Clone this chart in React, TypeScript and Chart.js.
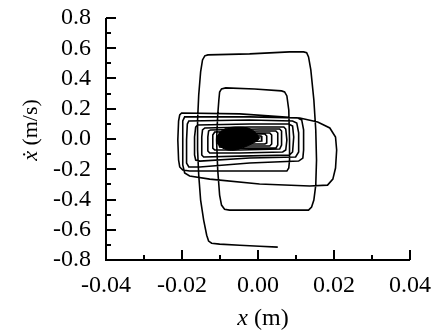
import React, { useEffect, useRef } from 'react';
import { Chart, registerables } from 'chart.js';

Chart.register(...registerables);

// Axis ticks
const xTickValues = [-0.04, -0.02, 0, 0.02, 0.04];
const xTickLabels = ['-0.04', '-0.02', '0.00', '0.02', '0.04'];
const xMinorTicks = [-0.03, -0.01, 0.01, 0.03];
const yTickValues = [-0.8, -0.6, -0.4, -0.2, 0, 0.2, 0.4, 0.6, 0.8];
const yTickLabels = ['-0.8', '-0.6', '-0.4', '-0.2', '0.0', '0.2', '0.4', '0.6', '0.8'];
const yMinorTicks = [-0.7, -0.5, -0.3, -0.1, 0.1, 0.3, 0.5, 0.7];

const xTitleVar = 'x';
const xTitleUnit = ' (m)';
const yTitleVar = '\u1E8B';
const yTitleUnit = ' (m/s)';

// Trajectory: [x (m), x-dot (m/s)]
const tallLoops: number[][] = [
  [0.0052, -0.715], [0.0004, -0.709], [-0.0048, -0.702], [-0.0101, -0.695], [-0.0122, -0.689],
  [-0.013, -0.675], [-0.0135, -0.636], [-0.0143, -0.536], [-0.0151, -0.404], [-0.0156, -0.238],
  [-0.0159, -0.073], [-0.0159, 0.126], [-0.0156, 0.291], [-0.0151, 0.444], [-0.0146, 0.523],
  [-0.014, 0.55], [-0.0132, 0.556], [-0.0022, 0.563], [0.0083, 0.576], [0.012, 0.576],
  [0.0128, 0.57], [0.0133, 0.543], [0.0139, 0.457], [0.0147, 0.258], [0.0152, 0.06],
  [0.0154, -0.139], [0.0152, -0.305], [0.0147, -0.404], [0.0141, -0.45], [0.0133, -0.47],
  [0.0083, -0.47], [0.0004, -0.47], [-0.0075, -0.47], [-0.0088, -0.464], [-0.0096, -0.437],
  [-0.0101, -0.371], [-0.0106, -0.205], [-0.0109, -0.007], [-0.0106, 0.159], [-0.0103, 0.258],
  [-0.0101, 0.311], [-0.0096, 0.331], [-0.0085, 0.338], [-0.0009, 0.331], [0.0062, 0.318],
  [0.007, 0.311], [0.0076, 0.285], [0.0081, 0.192], [0.0083, -0.007], [0.0083, -0.139],
  [0.0081, -0.192], [0.0076, -0.212],
];

const wideLoops: number[][] = [
  [0.0031, -0.212], [-0.0048, -0.212], [-0.0127, -0.212], [-0.018, -0.212], [-0.0198, -0.205],
  [-0.0206, -0.185], [-0.0209, -0.139], [-0.0211, -0.007], [-0.0209, 0.119], [-0.0206, 0.159],
  [-0.0201, 0.172], [-0.0048, 0.166], [0.011, 0.139], [0.0157, 0.113], [0.0189, 0.073],
  [0.0204, 0.013], [0.0207, -0.073], [0.0204, -0.192], [0.0197, -0.265], [0.0183, -0.305],
  [0.0136, -0.311], [0.0004, -0.298], [-0.0127, -0.265], [-0.018, -0.245], [-0.0193, -0.225],
  [-0.0198, -0.172], [-0.0198, -0.007], [-0.0198, 0.119], [-0.0193, 0.146],
  [-0.0022, 0.146], [0.0105, 0.139], [0.0115, 0.126], [0.012, 0.06], [0.012, -0.073],
  [0.0118, -0.126], [0.0107, -0.146], [-0.0022, -0.159], [-0.0153, -0.185], [-0.0182, -0.185],
  [-0.0188, -0.159], [-0.0188, -0.007], [-0.0186, 0.099], [-0.0182, 0.119],
  [-0.0022, 0.126], [0.0091, 0.119], [0.0102, 0.106], [0.0107, 0.04], [0.0107, -0.086],
  [0.0099, -0.119], [-0.0022, -0.126], [-0.0153, -0.146], [-0.0164, -0.139], [-0.0167, -0.106],
  [-0.0167, 0.013], [-0.0164, 0.079], [-0.0159, 0.093],
];

const innerLoops: number[][] = [
  [-0.0022, 0.099], [0.0081, 0.099], [0.0091, 0.086], [0.0094, 0.013], [0.0091, -0.086],
  [0.0083, -0.106], [-0.0048, -0.113], [-0.0143, -0.119], [-0.0148, -0.106], [-0.0148, 0.013],
  [-0.0146, 0.06], [-0.014, 0.073],
  [-0.0022, 0.079], [0.0068, 0.079], [0.0073, 0.066], [0.0076, -0.007], [0.0073, -0.073],
  [0.0065, -0.086], [-0.0048, -0.093], [-0.0127, -0.093], [-0.0132, -0.079], [-0.0132, 0.013],
  [-0.013, 0.053], [-0.0125, 0.06],
  [0.0004, 0.066], [0.0057, 0.066], [0.0062, 0.053], [0.0062, -0.04], [0.0057, -0.066],
  [-0.0048, -0.073], [-0.0114, -0.073], [-0.0119, -0.06], [-0.0119, 0.026], [-0.0114, 0.046],
  [0.0004, 0.053], [0.0047, 0.053], [0.0052, 0.04], [0.0052, -0.04], [0.0047, -0.06],
  [-0.0048, -0.06], [-0.0101, -0.053], [-0.0106, 0.013], [-0.0101, 0.04],
  [0.0031, 0.04], [0.0036, 0.026], [0.0036, -0.033], [0.0031, -0.046], [-0.0048, -0.046],
  [-0.0096, -0.04], [-0.0096, 0.026], [-0.0088, 0.033],
  [0.0018, 0.033], [0.0023, 0.02], [0.0023, -0.026], [0.0018, -0.033], [-0.0048, -0.033],
  [-0.0085, -0.026], [-0.0085, 0.02], [-0.0075, 0.026], [0.0008, 0.02], [0.001, -0.013],
  [-0.004, -0.02],
];

// Dense attractor core (filled region)
const attractorCore: number[][] = [
  [-0.0109, -0.007], [-0.0103, 0.033], [-0.0093, 0.06], [-0.0074, 0.076], [-0.0048, 0.079],
  [-0.0027, 0.073], [-0.0011, 0.053], [-0.0001, 0.026], [0.0004, 0.007], [-0.0003, -0.013],
  [-0.0017, -0.033], [-0.0035, -0.053], [-0.0059, -0.073], [-0.008, -0.073], [-0.0098, -0.053],
  [-0.0106, -0.033], [-0.0109, -0.007],
];

const FONT = "'Liberation Serif', 'DejaVu Serif', serif";

const toXY = (pts: number[][]) => pts.map(([x, y]) => ({ x, y }));

const axesPlugin = {
  id: 'inwardAxes',
  afterDraw(chart: any) {
    const { ctx, chartArea: a, scales } = chart;
    const xs = scales.x;
    const ys = scales.y;
    ctx.save();
    ctx.strokeStyle = '#000';
    ctx.lineWidth = 2;
    ctx.lineJoin = 'miter';
    ctx.beginPath();
    ctx.moveTo(a.left, a.top);
    ctx.lineTo(a.left, a.bottom);
    ctx.lineTo(a.right, a.bottom);
    ctx.stroke();
    ctx.beginPath();
    xTickValues.forEach((v) => {
      const px = Math.round(xs.getPixelForValue(v));
      ctx.moveTo(px, a.bottom);
      ctx.lineTo(px, a.bottom - 10);
    });
    xMinorTicks.forEach((v) => {
      const px = Math.round(xs.getPixelForValue(v));
      ctx.moveTo(px, a.bottom);
      ctx.lineTo(px, a.bottom - 5);
    });
    yTickValues.forEach((v) => {
      const py = Math.round(ys.getPixelForValue(v));
      ctx.moveTo(a.left, py);
      ctx.lineTo(a.left + 10, py);
    });
    yMinorTicks.forEach((v) => {
      const py = Math.round(ys.getPixelForValue(v));
      ctx.moveTo(a.left, py);
      ctx.lineTo(a.left + 5, py);
    });
    ctx.stroke();

    // x-axis title
    ctx.fillStyle = '#000';
    ctx.textBaseline = 'alphabetic';
    ctx.textAlign = 'left';
    ctx.font = `italic 24px ${FONT}`;
    const wVar = ctx.measureText(xTitleVar).width;
    ctx.font = `24px ${FONT}`;
    const wUnit = ctx.measureText(xTitleUnit).width;
    const sx = 263 - (wVar + wUnit) / 2;
    ctx.font = `italic 24px ${FONT}`;
    ctx.fillText(xTitleVar, sx, 325);
    ctx.font = `24px ${FONT}`;
    ctx.fillText(xTitleUnit, sx + wVar, 325);

    // y-axis title (rotated)
    ctx.translate(37, 130);
    ctx.rotate(-Math.PI / 2);
    ctx.font = `italic 22px ${FONT}`;
    const wyVar = ctx.measureText(yTitleVar).width;
    ctx.font = `22px ${FONT}`;
    const wyUnit = ctx.measureText(yTitleUnit).width;
    const sy = -(wyVar + wyUnit) / 2;
    ctx.font = `italic 22px ${FONT}`;
    ctx.fillText(yTitleVar, sy, 0);
    ctx.font = `22px ${FONT}`;
    ctx.fillText(yTitleUnit, sy + wyVar, 0);
    ctx.restore();
  },
};

export default function App() {
  const ref = useRef<HTMLCanvasElement | null>(null);
  useEffect(() => {
    if (!ref.current) return;
    const trajectory = [...tallLoops, ...wideLoops, ...innerLoops];
    const chart = new Chart(ref.current, {
      type: 'scatter',
      data: {
        datasets: [
          {
            data: toXY(trajectory),
            showLine: true,
            borderColor: '#000',
            borderWidth: 1.6,
            pointRadius: 0,
            fill: false,
            tension: 0,
          },
          {
            data: toXY(attractorCore),
            showLine: true,
            borderColor: '#000',
            backgroundColor: '#000',
            borderWidth: 1,
            pointRadius: 0,
            fill: 'shape',
            tension: 0.3,
          },
        ],
      },
      options: {
        animation: false,
        responsive: false,
        events: [],
        layout: { padding: { top: 18, right: 28, left: 0, bottom: 0 } },
        plugins: { legend: { display: false }, tooltip: { enabled: false } },
        scales: {
          x: {
            type: 'linear',
            min: -0.04,
            max: 0.04,
            grid: { display: false, drawTicks: false },
            border: { display: false },
            afterBuildTicks: (s: any) => {
              s.ticks = xTickValues.map((v) => ({ value: v }));
            },
            afterFit: (s: any) => {
              s.height = 71;
              s.paddingLeft = 0;
              s.paddingRight = 0;
            },
            ticks: {
              color: '#000',
              padding: 11,
              maxRotation: 0,
              autoSkip: false,
              font: { family: FONT, size: 24 },
              callback: (_v: any, i: number) => xTickLabels[i],
            },
          },
          y: {
            type: 'linear',
            min: -0.8,
            max: 0.8,
            grid: { display: false, drawTicks: false },
            border: { display: false },
            afterBuildTicks: (s: any) => {
              s.ticks = yTickValues.map((v) => ({ value: v }));
            },
            afterFit: (s: any) => {
              s.width = 106;
              s.paddingTop = 0;
              s.paddingBottom = 0;
            },
            ticks: {
              color: '#000',
              padding: 15,
              autoSkip: false,
              font: { family: FONT, size: 24 },
              callback: (_v: any, i: number) => yTickLabels[i],
            },
          },
        },
      },
      plugins: [axesPlugin],
    });
    return () => chart.destroy();
  }, []);
  return (
    <div style={{ position: 'fixed', left: 0, top: 0, width: 438, height: 331, background: '#fff' }}>
      <canvas ref={ref} width={438} height={331} style={{ display: 'block' }} />
    </div>
  );
}
